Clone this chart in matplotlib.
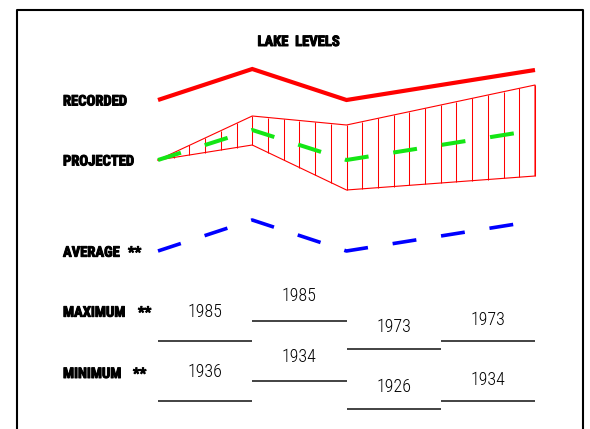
import numpy as np
import matplotlib
matplotlib.use('Agg')
import matplotlib.pyplot as plt
import matplotlib.patheffects as pe

plt.rcParams['lines.scale_dashes'] = False

# text
title = 'LAKE  LEVELS'
row_labels = ['RECORDED', 'PROJECTED', 'AVERAGE', 'MAXIMUM', 'MINIMUM']
row_stars = ['', '', '**', '**', '**']

# level lines (drawing units, down is lower), knots at period boundaries
knots = [0, 1, 2, 4]
recorded = [100, 69, 100, 70]
projected = [160, 130, 160, 130]
projected_high = [160, 116, 125, 85]
projected_low = [160, 145, 190, 176]
average = [251, 220, 251, 221]

# year table
max_years = ['1985', '1985', '1973', '1973']
max_level = [341, 321, 349, 341]
min_years = ['1936', '1934', '1926', '1934']
min_level = [401, 381, 409, 401]

# layout
W, H = 590, 429
edges = np.linspace(158, 535, 5)
centers = (edges[:-1] + edges[1:]) / 2
max_text_y = [312, 296, 327, 320]
min_text_y = [372, 357, 387, 380]
label_y = [100.5, 160.5, 251.7, 311.7, 373]
star_x = [0, 0, 128, 138, 133]

# heavy condensed labels, thin condensed years
label_font = dict(family=['Roboto Condensed', 'Archivo Narrow', 'DejaVu Sans'],
                  fontweight='bold', fontsize=10.5,
                  path_effects=[pe.withStroke(linewidth=0.7, foreground='black')])
year_font = dict(family=['Roboto Condensed', 'Archivo Narrow', 'DejaVu Sans'],
                 fontweight='light', fontsize=13, color='black')

fig = plt.figure(figsize=(5.9, 4.29), dpi=100)
ax = fig.add_axes([0, 0, 1, 1])
ax.set_xlim(0, W)
ax.set_ylim(H, 0)
ax.axis('off')

# frame (bottom runs off the picture)
ax.plot([17, 17, 583, 583], [H + 5, 10, 10, H + 5], color='black', lw=1.5)

xk = edges[knots]

# recorded
ax.plot(xk, recorded, color='#ff0000', lw=3, solid_capstyle='butt', solid_joinstyle='miter')

# projected range, outline and vertical hatching
ax.plot(np.r_[xk, xk[::-1]], np.r_[projected_high, projected_low[::-1]],
        color='#ff0000', lw=0.8)
xs = np.linspace(edges[0], edges[-1], 25)[1:]
ax.vlines(xs, np.interp(xs, xk, projected_high), np.interp(xs, xk, projected_low),
          color='#ff0000', lw=0.75)

# projected mid line
ax.plot(xk, projected, color='#14e614', lw=2.9, dashes=(17.3, 18), dash_capstyle='butt')

# average
ax.plot(xk, average, color='#0000ff', lw=2.6, dashes=(17.3, 18), dash_capstyle='butt')

# max / min year table
ax.hlines(max_level, edges[:-1], edges[1:], color='#222222', lw=1.2)
ax.hlines(min_level, edges[:-1], edges[1:], color='#222222', lw=1.2)
for cx, y, t in zip(centers, max_text_y, max_years):
    ax.text(cx, y, t, ha='center', va='center', **year_font)
for cx, y, t in zip(centers, min_text_y, min_years):
    ax.text(cx, y, t, ha='center', va='center', **year_font)

# labels
ax.text(299, 46, title, ha='center', va='baseline', **label_font)
for lab, st, y, sx in zip(row_labels, row_stars, label_y, star_x):
    ax.text(63, y + 5, lab, ha='left', va='baseline', **label_font)
    if st:
        ax.text(sx, y + 5, st, ha='left', va='baseline', **label_font)

fig.savefig('out.png', dpi=100)
